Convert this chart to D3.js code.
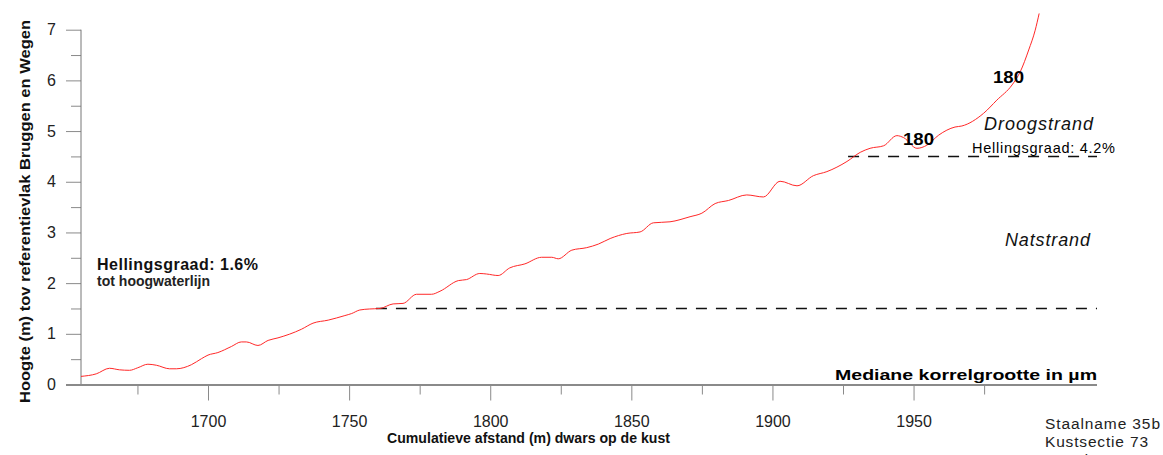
<!DOCTYPE html>
<html><head><meta charset="utf-8">
<script src="https://cdn.jsdelivr.net/npm/d3@7"></script>
<style>
html,body{margin:0;padding:0;background:#fff;overflow:hidden}
text{font-family:"Liberation Sans",Arial,sans-serif}
</style></head>
<body><svg id="c" width="1163" height="455"></svg>
<script>
const distance = [1655.0,1660.4,1665.1,1668.6,1672.2,1675.1,1678.7,1681.7,1686.4,1688.8,1694.1,1697.7,1700.0,1703.5,1708.3,1711.8,1713.6,1717.7,1721.3,1724.8,1733.1,1737.2,1742.6,1748.5,1750.9,1753.8,1757.3,1760.9,1765.6,1769.1,1773.9,1779.2,1782.2,1788.7,1791.6,1796.3,1798.7,1802.8,1806.9,1812.3,1818.2,1821.8,1824.1,1828.9,1834.2,1838.3,1842.5,1848.4,1853.1,1857.8,1863.7,1870.8,1875.0,1879.7,1884.4,1890.9,1896.8,1902.7,1908.7,1914.5,1919.3,1926.4,1931.1,1934.6,1939.4,1944.1,1946.5,1951.2,1954.7,1958.9,1964.7,1967.1,1974.8,1979.5,1984.9,1987.8,1990.8,1993.1,1994.5];
const height = [0.16,0.21,0.32,0.29,0.28,0.33,0.40,0.38,0.31,0.31,0.39,0.51,0.58,0.63,0.75,0.84,0.84,0.77,0.87,0.92,1.09,1.21,1.27,1.36,1.40,1.47,1.49,1.50,1.59,1.60,1.78,1.78,1.84,2.05,2.07,2.19,2.18,2.15,2.30,2.38,2.51,2.51,2.48,2.65,2.70,2.77,2.88,2.98,3.01,3.19,3.21,3.31,3.38,3.57,3.63,3.74,3.70,4.01,3.92,4.12,4.20,4.40,4.58,4.66,4.71,4.91,4.87,4.66,4.72,4.92,5.08,5.10,5.35,5.61,5.91,6.17,6.60,6.99,7.32];
const xMajorTicks = [1700,1750,1800,1850,1900,1950];
const xMinorTicks = [1675,1725,1775,1825,1875,1925,1975];
const yMajorTicks = [0,1,2,3,4,5,6,7];
const yMinorTicks = [0.5,1.5,2.5,3.5,4.5,5.5,6.5];
const hwlLevel = 1.5, hwlStart = 1759.5;
const dryLevel = 4.5, dryStart = 1926.8;
const xEnd = 2015;

const svg = d3.select("#c");
const x = d3.scaleLinear().domain([1655, 2015]).range([81, 1097]);
const y = d3.scaleLinear().domain([0, 7]).range([384.5, 29.7]);
const axisCol = "#8a8a8a";

// Y axis
const gy = svg.append("g").attr("transform","translate(81,0)");
gy.call(d3.axisLeft(y).tickValues(yMajorTicks).tickSize(15).tickFormat(d3.format("d")).tickPadding(10));
gy.append("g").call(d3.axisLeft(y).tickValues(yMinorTicks).tickSize(10).tickFormat(""));
gy.selectAll(".domain").remove();
gy.append("line").attr("x1",0).attr("x2",0).attr("y1",y(7)).attr("y2",y(0)).attr("stroke","#777").attr("stroke-width",1);
gy.selectAll(".tick line").attr("stroke",axisCol);
gy.selectAll(".tick text").attr("font-size",16).attr("fill","#222").attr("font-family","Liberation Sans, Arial, sans-serif");

// X axis
const gx = svg.append("g").attr("transform","translate(0,384.5)");
gx.call(d3.axisBottom(x).tickValues(xMajorTicks).tickSize(16).tickFormat(d3.format("d")).tickPadding(15));
gx.append("g").call(d3.axisBottom(x).tickValues(xMinorTicks).tickSize(10).tickFormat(""));
gx.selectAll(".domain").remove();
gx.append("line").attr("x1",66).attr("x2",x(xEnd)).attr("y1",0.5).attr("y2",0.5).attr("stroke",axisCol).attr("stroke-width",2);
gx.selectAll(".tick line").attr("stroke",axisCol);
gx.selectAll(".tick text").attr("font-size",16).attr("fill","#222").attr("font-family","Liberation Sans, Arial, sans-serif");

// dashed lines
const dash = [[hwlStart,hwlLevel],[dryStart,dryLevel]];
svg.selectAll("line.dash").data(dash).enter().append("line").attr("class","dash")
  .attr("x1",d=>x(d[0])).attr("x2",x(xEnd)).attr("y1",d=>y(d[1])).attr("y2",d=>y(d[1]))
  .attr("stroke","#111").attr("stroke-width",1.5).attr("stroke-dasharray","11,9");

// profile
const pts = distance.map((d,i)=>[d,height[i]]);
svg.append("path").datum(pts)
  .attr("d", d3.line().x(d=>x(d[0])).y(d=>y(d[1])).curve(d3.curveMonotoneX))
  .attr("fill","none").attr("stroke","#ff2828").attr("stroke-width",1);

// texts
function t(txt, px, py, opts){
  const e = svg.append("text").attr("x",px).attr("y",py).text(txt);
  for (const k in opts) e.attr(k, opts[k]);
  return e;
}
t("Hoogte (m) tov referentievlak Bruggen en Wegen", 0, 0, {"font-size":15,"font-weight":"bold","fill":"#111","text-anchor":"middle","transform":"translate(30,211.5) rotate(-90)","textLength":383,"lengthAdjust":"spacingAndGlyphs"});
t("Cumulatieve afstand (m) dwars op de kust", 387, 443, {"font-size":15,"font-weight":"bold","fill":"#111","textLength":283,"lengthAdjust":"spacingAndGlyphs"});
t("Hellingsgraad: 1.6%", 97, 269.5, {"font-size":16,"font-weight":"bold","fill":"#111","textLength":161});
t("tot hoogwaterlijn", 97, 286, {"font-size":14,"font-weight":"bold","fill":"#222","textLength":113});
t("Droogstrand", 984, 130, {"font-size":18,"font-style":"italic","fill":"#111","textLength":109});
t("Natstrand", 1005, 246, {"font-size":18,"font-style":"italic","fill":"#111","textLength":85});
t("Hellingsgraad: 4.2%", 972, 152.7, {"font-size":14.5,"fill":"#000","textLength":143});
t("180", 903, 145, {"font-size":16,"font-weight":"bold","fill":"#000","font-family":"DejaVu Sans, sans-serif","textLength":31,"lengthAdjust":"spacingAndGlyphs"});
t("180", 993, 83.3, {"font-size":16,"font-weight":"bold","fill":"#000","font-family":"DejaVu Sans, sans-serif","textLength":31,"lengthAdjust":"spacingAndGlyphs"});
t("Mediane korrelgrootte in µm", 835, 380, {"font-size":14.5,"font-weight":"bold","fill":"#000","font-family":"DejaVu Sans, sans-serif","textLength":262,"lengthAdjust":"spacingAndGlyphs"});
t("Staalname 35b", 1045, 429.3, {"font-size":15.5,"fill":"#222","textLength":115});
t("Kustsectie 73", 1045, 446.7, {"font-size":15.5,"fill":"#222","textLength":103});
t("Meetdatum", 1045, 465, {"font-size":15.5,"fill":"#222"});
</script></body></html>
